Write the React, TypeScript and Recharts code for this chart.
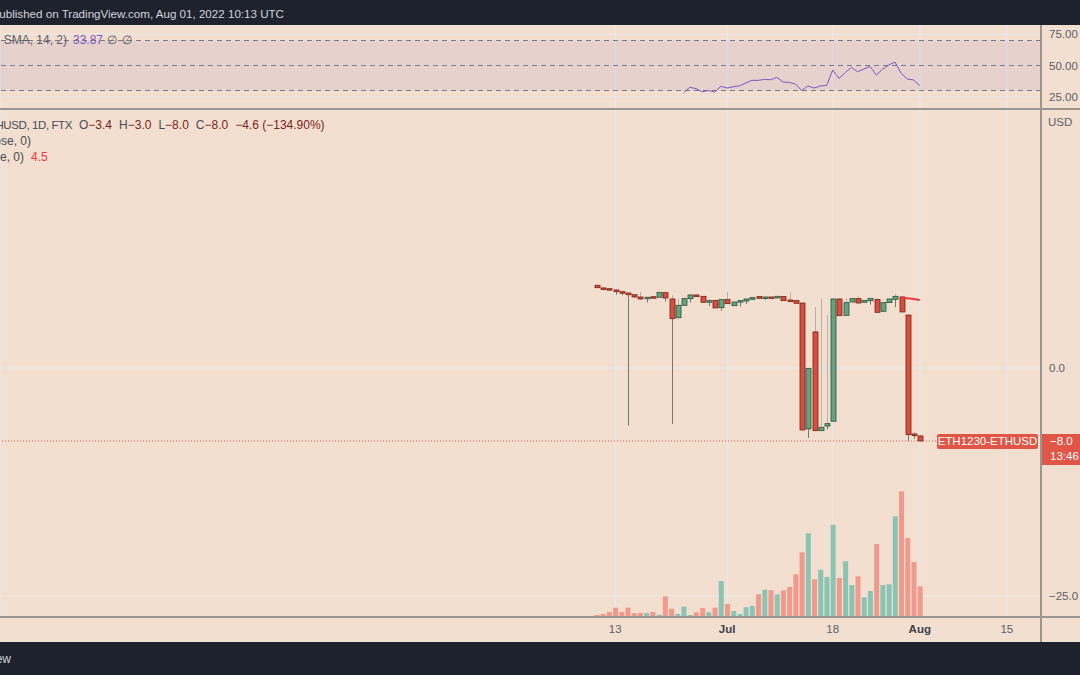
import React from 'react';
import {
  Bar,
  CartesianGrid,
  Cell,
  ComposedChart,
  Line,
  LineChart,
  ReferenceArea,
  ReferenceLine,
  XAxis,
  YAxis,
} from 'recharts';

// ETH1230-ETHUSD spread, 1D, FTX — Jun 10 .. Aug 1, 2022
const dates = [
  'Jun 10', 'Jun 11', 'Jun 12', 'Jun 13', 'Jun 14', 'Jun 15', 'Jun 16', 'Jun 17', 'Jun 18', 'Jun 19',
  'Jun 20', 'Jun 21', 'Jun 22', 'Jun 23', 'Jun 24', 'Jun 25', 'Jun 26', 'Jun 27', 'Jun 28', 'Jun 29',
  'Jun 30', 'Jul 1', 'Jul 2', 'Jul 3', 'Jul 4', 'Jul 5', 'Jul 6', 'Jul 7', 'Jul 8', 'Jul 9',
  'Jul 10', 'Jul 11', 'Jul 12', 'Jul 13', 'Jul 14', 'Jul 15', 'Jul 16', 'Jul 17', 'Jul 18', 'Jul 19',
  'Jul 20', 'Jul 21', 'Jul 22', 'Jul 23', 'Jul 24', 'Jul 25', 'Jul 26', 'Jul 27', 'Jul 28', 'Jul 29',
  'Jul 30', 'Jul 31', 'Aug 1',
];

const opens = [
  9.06, 8.77, 8.69, 8.55, 8.36, 8.22, 8.03, 7.78, 7.6, 7.81,
  7.75, 8.25, 7.56, 5.51, 6.87, 7.6, 8.0, 7.85, 7.2, 7.41,
  6.61, 7.52, 6.83, 7.23, 7.34, 7.52, 7.82, 7.63, 7.78, 7.67,
  7.82, 7.45, 7.38, 7.12, -6.68, 3.95, -6.87, -6.36, -5.84, 7.56,
  5.77, 7.23, 7.6, 7.2, 7.38, 7.52, 6.21, 7.16, 7.52, 7.78,
  5.8, -7.23, -7.45,
];
const highs = [
  9.15, 8.85, 8.72, 8.62, 8.4, 8.26, 8.1, 8.33, 7.8, 7.88,
  8.32, 8.28, 7.97, 7.56, 7.72, 8.05, 8.05, 7.9, 7.56, 7.45,
  7.52, 8.33, 7.26, 7.42, 7.6, 7.75, 7.86, 7.82, 7.82, 7.9,
  7.86, 8.33, 7.42, 7.15, 0.0, 6.68, 7.6, 5.8, 7.6, 7.6,
  7.67, 7.64, 7.85, 7.44, 7.66, 7.56, 7.19, 7.59, 8.11, 7.82,
  5.84, -7.0, -7.3,
];
const lows = [
  8.75, 8.6, 8.52, 8.03, 7.97, -6.32, 7.7, 7.5, 7.16, 7.6,
  7.72, 7.27, -6.14, 5.45, 6.84, 7.16, 7.78, 7.15, 6.8, 6.55,
  6.28, 7.0, 6.8, 6.72, 7.01, 7.48, 7.6, 7.45, 7.58, 7.64,
  7.35, 7.24, 7.05, -6.85, -7.67, -6.92, -6.92, -6.76, -5.9, 5.7,
  5.74, 7.2, 7.08, 7.17, 6.94, 6.07, 6.18, 7.13, 6.65, 6.11,
  -8.03, -7.75, -8.05,
];
const closes = [
  8.8, 8.66, 8.55, 8.36, 8.22, 8.03, 7.78, 7.56, 7.75, 7.67,
  8.29, 7.67, 5.4, 6.87, 7.6, 8.0, 7.82, 7.2, 7.38, 6.58,
  7.49, 7.05, 7.23, 7.38, 7.56, 7.71, 7.63, 7.78, 7.63, 7.85,
  7.38, 7.27, 7.09, -6.79, -0.04, -6.87, -6.5, -6.1, 7.56, 5.73,
  7.16, 7.6, 7.12, 7.41, 7.63, 6.1, 7.16, 7.56, 7.85, 6.14,
  -7.3, -7.42, -8.0,
];
const volumes = [
  200, 300, 500, 930, 500, 930, 400, 400, 400, 500,
  230, 2070, 830, 300, 1030, 200, 470, 900, 470, 930,
  3600, 1300, 600, 300, 970, 1100, 2270, 2730, 2670, 2270,
  2670, 3000, 4270, 6470, 8370, 3770, 4730, 4000, 9230, 3900,
  5570, 3200, 4070, 1970, 2600, 7300, 3200, 3270, 10070, 12570,
  7900, 5500, 3070,
];

// RSI(14) starts on the 15th bar
const rsiStart = 14;
const rsiValues = [
  28.2, 32.6, 31.5, 29.0, 30.0, 28.8, 33.3, 32.0, 33.0, 33.8,
  36.0, 38.1, 38.1, 38.9, 38.6, 40.5, 36.8, 36.5, 35.2, 30.0,
  33.6, 32.0, 33.6, 34.1, 46.4, 39.7, 44.3, 48.5, 45.0, 47.2,
  49.3, 42.4, 47.0, 50.4, 52.8, 43.8, 39.2, 38.4, 33.87,
];

// short red average line at the end
const maStart = 49;
const maValues = [7.72, 7.65, 7.56, 7.46];

const dateTicks = [3, 21, 38, 52, 66];
const dateTickLabels = ['13', 'Jul', '18', 'Aug', '15'];
const priceTicks = [-25, 0];
const rsiTicks = [25, 50, 75];
const rsiLevels = [70, 50, 30];
const lastPrice = -8.0;

const data = dates.map((date, i) => ({
  i,
  date,
  open: opens[i],
  high: highs[i],
  low: lows[i],
  close: closes[i],
  volume: volumes[i],
  rsi: i >= rsiStart ? rsiValues[i - rsiStart] : null,
  ma: i >= maStart ? maValues[i - maStart] : null,
}));

const X_DOMAIN: [number, number] = [-95.97, 71.5];
const PRICE_DOMAIN: [number, number] = [-27.29, 28.27];
const VOL_DOMAIN: [number, number] = [0, 50700];
const RSI_DOMAIN: [number, number] = [15.2, 82.4];

const COLORS = {
  bg: '#f2dfcf',
  dark: '#1e222d',
  grid: '#ece6e3',
  axisText: '#5d606b',
  sep: '#9b9692',
  upFill: '#67a17f',
  upStroke: '#22563a',
  downFill: '#d6503f',
  downStroke: '#7a1f17',
  upVol: '#8cc4b4',
  downVol: '#f09a8d',
  wickUp: '#b9b0aa',
  wickDown: '#767676',
  rsi: '#7e57c2',
  ma: '#f23645',
  last: '#e05545',
};

const fmtPrice = (v: number) => (v === 0 ? '0.0' : (v < 0 ? '\u2212' : '') + Math.abs(v).toFixed(1));

function CandleShape(props: any) {
  const { x, y, width, height, payload } = props;
  const { open, close, high, low } = payload;
  const top0 = Math.min(y, y + height);
  const h = Math.abs(height);
  const k = h / (high - low);
  const cx = Math.round(x + width / 2) + 0.5;
  const yOf = (v: number) => top0 + (high - v) * k;
  const up = close >= open;
  const bodyTop = yOf(Math.max(open, close));
  const bodyBot = yOf(Math.min(open, close));
  const bodyH = Math.max(bodyBot - bodyTop, 1.5);
  return (
    <g>
      <line x1={cx} x2={cx} y1={top0} y2={bodyTop} stroke={COLORS.wickUp} strokeWidth={1} />
      <line x1={cx} x2={cx} y1={bodyBot} y2={top0 + h} stroke={COLORS.wickDown} strokeWidth={1} />
      <rect
        x={cx - 2.5}
        y={bodyTop}
        width={5}
        height={bodyH}
        fill={up ? COLORS.upFill : COLORS.downFill}
        stroke={up ? COLORS.upStroke : COLORS.downStroke}
        strokeWidth={0.8}
      />
    </g>
  );
}

function DateTick(props: any) {
  const { x, y, payload } = props;
  const label = dateTickLabels[dateTicks.indexOf(payload.value)] ?? '';
  const month = isNaN(Number(label));
  return (
    <text
      x={x}
      y={y}
      dy="0.71em"
      textAnchor="middle"
      fontSize={11.5}
      fontWeight={month ? 700 : 400}
      fill={month ? '#3d404a' : COLORS.axisText}
    >
      {label}
    </text>
  );
}

const abs = (s: React.CSSProperties): React.CSSProperties => ({ position: 'absolute', whiteSpace: 'nowrap', ...s });

export default function App() {
  return (
    <div
      style={{
        position: 'absolute',
        left: 0,
        top: 0,
        width: 1080,
        height: 675,
        overflow: 'hidden',
        background: COLORS.bg,
        fontFamily: "'Liberation Sans', Arial, sans-serif",
      }}
    >
      {/* header */}
      <div style={abs({ left: 0, top: 0, width: 1080, height: 25, background: COLORS.dark })} />
      <div style={abs({ right: 1080 - 284, top: 7, fontSize: 11.6, lineHeight: '14px', color: '#d1d4dc' })}>
        Published on TradingView.com, Aug 01, 2022 10:13 UTC
      </div>

      {/* RSI pane */}
      <div style={abs({ left: 0, top: 25 })}>
        <LineChart width={1080} height={84} data={data} margin={{ top: 0, right: 0, bottom: 0, left: 0 }}>
          <CartesianGrid stroke={COLORS.grid} strokeWidth={1.5} />
          <XAxis dataKey="i" type="number" domain={X_DOMAIN} allowDataOverflow ticks={dateTicks} hide height={0} />
          <YAxis
            orientation="right"
            width={39}
            domain={RSI_DOMAIN}
            allowDataOverflow
            ticks={rsiTicks}
            tickFormatter={(v: number) => v.toFixed(2)}
            axisLine={false}
            tickLine={false}
            tick={{ fill: COLORS.axisText, fontSize: 11.5 }}
          />
          <ReferenceArea y1={30} y2={70} fill={COLORS.rsi} fillOpacity={0.1} stroke="none" />
          {rsiLevels.map((l) => (
            <ReferenceLine key={'lv' + l} y={l} stroke="#787b86" strokeDasharray="5 4" strokeWidth={1} />
          ))}
          <Line
            dataKey="rsi"
            stroke={COLORS.rsi}
            strokeWidth={1}
            dot={false}
            isAnimationActive={false}
          />
        </LineChart>
      </div>
      <div style={abs({ right: 1080 - 67, top: 33, fontSize: 12, lineHeight: '14px', color: '#5d606b' })}>
        RSI (close, 14, SMA, 14, 2)
      </div>
      <div style={abs({ left: 73, top: 33, fontSize: 12, lineHeight: '14px', color: COLORS.rsi })}>33.87</div>
      <div style={abs({ left: 107, top: 33, fontSize: 12, lineHeight: '14px', color: '#5d606b' })}>∅</div>
      <div style={abs({ left: 122, top: 33, fontSize: 12, lineHeight: '14px', color: '#5d606b' })}>∅</div>

      {/* pane separator */}
      <div style={abs({ left: 0, top: 108, width: 1080, height: 2, background: COLORS.sep })} />

      {/* main pane: candles + volume */}
      <div style={abs({ left: 0, top: 110 })}>
        <ComposedChart width={1080} height={532} data={data} margin={{ top: 0, right: 0, bottom: 0, left: 0 }}>
          <XAxis
            xAxisId="a"
            dataKey="i"
            type="number"
            domain={X_DOMAIN}
            allowDataOverflow
            ticks={dateTicks}
            interval={0}
            height={25}
            axisLine={false}
            tickLine={false}
            tick={<DateTick />}
          />
          <XAxis xAxisId="z" dataKey="i" type="number" domain={X_DOMAIN} allowDataOverflow hide height={0} />
          <YAxis
            yAxisId="p"
            orientation="right"
            width={39}
            domain={PRICE_DOMAIN}
            allowDataOverflow
            ticks={priceTicks}
            tickFormatter={fmtPrice}
            axisLine={false}
            tickLine={false}
            tick={{ fill: COLORS.axisText, fontSize: 11.5 }}
          />
          <YAxis yAxisId="vol" domain={VOL_DOMAIN} allowDataOverflow hide width={0} />
          <CartesianGrid xAxisId="a" yAxisId="p" stroke={COLORS.grid} strokeWidth={1.5} />
          <Bar xAxisId="a" yAxisId="vol" dataKey="volume" barSize={5} isAnimationActive={false}>
            {data.map((d) => (
              <Cell key={'v' + d.i} fill={d.close >= d.open ? COLORS.upVol : COLORS.downVol} />
            ))}
          </Bar>
          <ReferenceLine
            xAxisId="z"
            yAxisId="p"
            y={lastPrice}
            stroke={COLORS.last}
            strokeDasharray="1 2"
            strokeWidth={1}
          />
          <Bar
            xAxisId="z"
            yAxisId="p"
            dataKey={(d: any) => [d.low, d.high]}
            barSize={5}
            shape={<CandleShape />}
            isAnimationActive={false}
          />
          <Line
            xAxisId="z"
            yAxisId="p"
            dataKey="ma"
            stroke={COLORS.ma}
            strokeWidth={2}
            dot={false}
            isAnimationActive={false}
          />
        </ComposedChart>
      </div>

      {/* legend of main pane */}
      <div
        style={abs({
          right: 1080 - 72,
          top: 118,
          fontSize: 11.5,
          letterSpacing: -0.4,
          lineHeight: '14px',
          color: '#4a4c56',
        })}
      >
        ETH1230-ETHUSD, 1D, FTX
      </div>
      <div style={abs({ left: 79, top: 118, fontSize: 12, lineHeight: '14px', display: 'flex', gap: 7 })}>
        {[
          ['O', '\u22123.4'],
          ['H', '\u22123.0'],
          ['L', '\u22128.0'],
          ['C', '\u22128.0'],
          ['', '\u22124.6 (\u2212134.90%)'],
        ].map(([k, v]) => (
          <span key={k + v}>
            <span style={{ color: '#4a4c56' }}>{k}</span>
            <span style={{ color: '#7b1d1d' }}>{v}</span>
          </span>
        ))}
      </div>
      <div style={abs({ right: 1080 - 31, top: 134, fontSize: 12, lineHeight: '14px', color: '#4a4c56' })}>
        MA (close, 0)
      </div>
      <div style={abs({ right: 1080 - 24, top: 150, fontSize: 12, lineHeight: '14px', color: '#4a4c56' })}>
        MA (close, 0)
      </div>
      <div style={abs({ left: 31, top: 150, fontSize: 12, lineHeight: '14px', color: COLORS.ma })}>4.5</div>

      {/* price-axis extras */}
      <div style={abs({ left: 1048, top: 115, fontSize: 11.5, lineHeight: '14px', color: COLORS.axisText })}>USD</div>
      <div
        style={abs({
          left: 937,
          top: 434,
          width: 101,
          height: 15,
          background: COLORS.last,
          borderRadius: 2,
          color: '#fff',
          fontSize: 11.5,
          lineHeight: '15px',
          textAlign: 'center',
        })}
      >
        ETH1230-ETHUSD
      </div>
      <div
        style={abs({
          left: 1041,
          top: 434,
          width: 39,
          height: 31,
          background: COLORS.last,
          color: '#fff',
          fontSize: 11.5,
          lineHeight: '15px',
          paddingLeft: 9,
          boxSizing: 'border-box',
        })}
      >
        <div>{'\u22128.0'}</div>
        <div>13:46</div>
      </div>

      {/* axis lines */}
      <div style={abs({ left: 0, top: 616, width: 1080, height: 2, background: COLORS.sep })} />
      <div style={abs({ left: 1040, top: 25, width: 2, height: 617, background: COLORS.sep })} />

      {/* footer */}
      <div style={abs({ left: 0, top: 642, width: 1080, height: 33, background: COLORS.dark })} />
      <div style={abs({ right: 1080 - 11, top: 652, fontSize: 12, lineHeight: '14px', color: '#d1d4dc' })}>
        TradingView
      </div>
    </div>
  );
}
